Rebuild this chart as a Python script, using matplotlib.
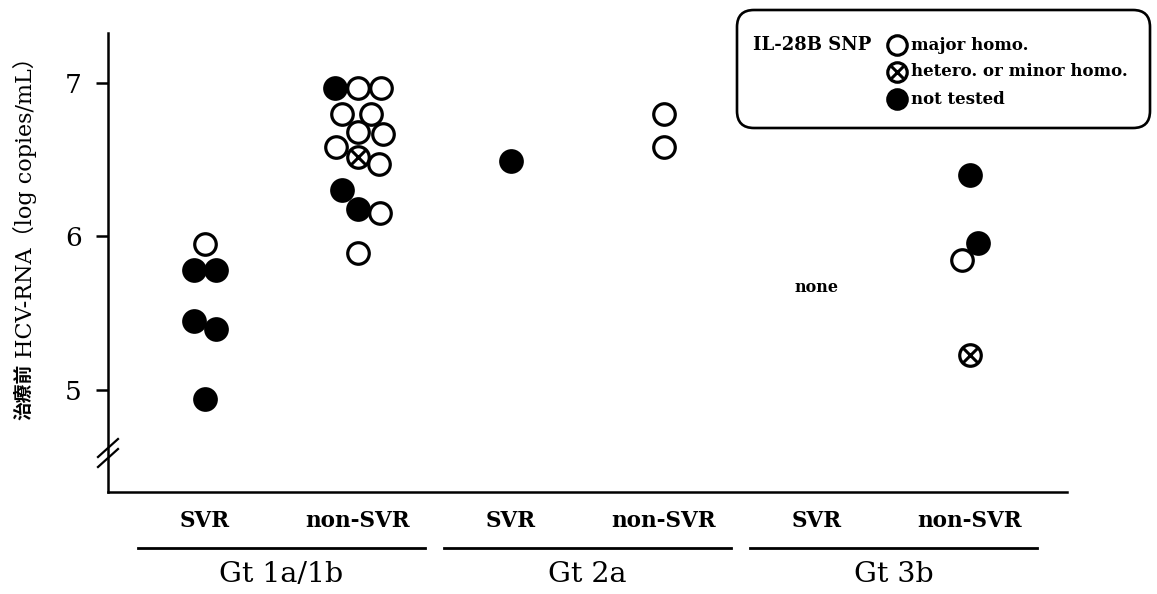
import matplotlib
matplotlib.use("Agg")
import matplotlib.pyplot as plt
from matplotlib.patches import FancyBboxPatch
from matplotlib.transforms import blended_transform_factory

# ---------------- data ----------------
genotypes = ["Gt 1a/1b", "Gt 2a", "Gt 3b"]
outcomes = ["SVR", "non-SVR"]
ytick_values = [5, 6, 7]
ytick_labels = ["5", "6", "7"]

# status codes: "major" = major homo., "hetero" = hetero. or minor homo., "nt" = not tested
gt1_svr_values = [5.95, 5.78, 5.78, 5.45, 5.40, 4.94]
gt1_svr_status = ["major", "nt", "nt", "nt", "nt", "nt"]
gt1_svr_slots = [0, -0.5, 0.5, -0.5, 0.5, 0]

gt1_nonsvr_values = [6.97, 6.97, 6.97, 6.80, 6.80, 6.68, 6.67, 6.58, 6.52,
                     6.47, 6.30, 6.18, 6.15, 5.89]
gt1_nonsvr_status = ["nt", "major", "major", "major", "major", "major", "major",
                     "major", "hetero", "major", "nt", "nt", "major", "major"]
gt1_nonsvr_slots = [-1, 0, 1, -0.7, 0.55, 0, 1.1, -0.95, 0, 0.9, -0.7, 0, 0.95, 0]

gt2_svr_values = [6.49]
gt2_svr_status = ["nt"]
gt2_svr_slots = [0]

gt2_nonsvr_values = [6.80, 6.58]
gt2_nonsvr_status = ["major", "major"]
gt2_nonsvr_slots = [0, 0]

gt3_svr_values = []
gt3_svr_status = []
gt3_svr_slots = []
gt3_svr_note = "none"
gt3_svr_note_y = 5.67

gt3_nonsvr_values = [6.40, 5.96, 5.85, 5.23]
gt3_nonsvr_status = ["nt", "nt", "major", "hetero"]
gt3_nonsvr_slots = [0, 0.35, -0.35, 0]

columns = [
    (gt1_svr_values, gt1_svr_status, gt1_svr_slots),
    (gt1_nonsvr_values, gt1_nonsvr_status, gt1_nonsvr_slots),
    (gt2_svr_values, gt2_svr_status, gt2_svr_slots),
    (gt2_nonsvr_values, gt2_nonsvr_status, gt2_nonsvr_slots),
    (gt3_svr_values, gt3_svr_status, gt3_svr_slots),
    (gt3_nonsvr_values, gt3_nonsvr_status, gt3_nonsvr_slots),
]

legend_title = "IL-28B SNP"
legend_labels = {"major": "major homo.", "hetero": "hetero. or minor homo.", "nt": "not tested"}

# ---------------- style ----------------
SERIF = ["DejaVu Serif", "Noto Sans CJK JP"]
plt.rcParams["font.family"] = SERIF
MS = 15.5
MEW = 2.3
SLOT_W = 0.15


def draw_marker(axis, x, y, status, ms=MS, **kw):
    if status == "nt":
        axis.plot([x], [y], "o", ms=ms, mfc="black", mec="black", mew=MEW, zorder=3, **kw)
    else:
        axis.plot([x], [y], "o", ms=ms, mfc="white", mec="black", mew=MEW, zorder=3, **kw)
        if status == "hetero":
            axis.plot([x], [y], "x", ms=ms * 0.62, mec="black", mew=MEW * 0.95, zorder=4, **kw)


W, H = 1157, 594
fig = plt.figure(figsize=(W / 100, H / 100), dpi=100)
L, R, B, T = 108, 1067, 492, 33
ax = fig.add_axes([L / W, 1 - B / H, (R - L) / W, (B - T) / H])

# data
for i, (vals, stats, slots) in enumerate(columns):
    for v, s, sl in zip(vals, stats, slots):
        draw_marker(ax, i + sl * SLOT_W, v, s)

ax.text(4, gt3_svr_note_y, gt3_svr_note, ha="center", va="center",
        fontsize=11.5, fontweight="bold")

ax.set_xlim(-0.634, 5.634)
ax.set_ylim(4.335, 7.326)
ax.set_yticks(ytick_values)
ax.set_yticklabels(ytick_labels, fontsize=19)
ax.set_xticks([])
ax.tick_params(axis="y", direction="out", length=9, width=1.8, pad=10)
for side in ["top", "right"]:
    ax.spines[side].set_visible(False)
for side in ["left", "bottom"]:
    ax.spines[side].set_linewidth(1.8)

# axis break marks
axh = B - T
axw = R - L
yb = (B - 453) / axh
for off in (-5, 5):
    ax.plot([-10 / axw, 10 / axw], [yb + (off - 9) / axh, yb + (off + 9) / axh],
            transform=ax.transAxes, color="black", lw=1.6, clip_on=False, zorder=5)

# category labels
tr = blended_transform_factory(ax.transData, ax.transAxes)
for g, gname in enumerate(genotypes):
    for k, oname in enumerate(outcomes):
        ax.text(2 * g + k, -(521 - B) / axh, oname, transform=tr, ha="center", va="center",
                fontsize=15.5, fontweight="bold")
    c = 2 * g + 0.5
    ax.plot([c - 0.94, c + 0.94], [-(548 - B) / axh] * 2, transform=tr, color="black",
            lw=2.0, clip_on=False)
    ax.text(c, -(574 - B) / axh, gname, transform=tr, ha="center", va="center", fontsize=20.5)

# y label
fig.text(24 / W, 1 - 420 / H, "治療前", rotation=90, ha="center", va="bottom",
         fontsize=13.5, fontweight="bold", family=["Noto Sans CJK JP"])
fig.text(25 / W, 1 - 358 / H, "HCV-RNA（log copies/mL）", rotation=90, ha="center",
         va="bottom", fontsize=16, family=SERIF)

# legend box (overlay in pixel coordinates)
ov = fig.add_axes([0, 0, 1, 1], facecolor="none")
ov.set_xlim(0, W)
ov.set_ylim(H, 0)
ov.axis("off")
box = FancyBboxPatch((7.37, (H - 128) / 100), 4.13, 1.18,
                     boxstyle="round,pad=0,rounding_size=0.17",
                     transform=fig.dpi_scale_trans, fill=False, lw=1.9, ec="black")
fig.add_artist(box)
ov.text(753, 45, legend_title, ha="left", va="center", fontsize=13, fontweight="bold")
for j, key in enumerate(["major", "hetero", "nt"]):
    yy = 45 + 27 * j
    draw_marker(ov, 897, yy, key, ms=14)
    ov.text(911, yy, legend_labels[key], ha="left", va="center", fontsize=12, fontweight="bold")

fig.savefig("out.png", dpi=100)
